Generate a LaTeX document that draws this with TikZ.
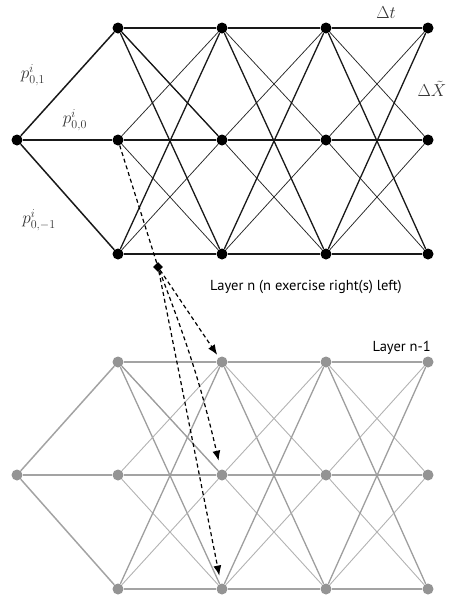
\documentclass[tikz,border=0pt]{standalone}
\usepackage{fontspec}
\setsansfont{PT Sans}
\usetikzlibrary{shapes.geometric,arrows.meta}
\begin{document}
\begin{tikzpicture}[x=1pt,y=-1pt,
  tn/.style={circle,fill=black,inner sep=0pt,minimum size=11pt},
  bn/.style={circle,fill=black!42,inner sep=0pt,minimum size=11pt},
  te0/.style={draw=black!90,line width=1.5pt},
  te1/.style={draw=black!85,line width=0.75pt},
  te2/.style={draw=black!90,line width=1.3pt},
  be0/.style={draw=black!36,line width=1.5pt},
  be1/.style={draw=black!30,line width=0.9pt},
  be2/.style={draw=black!38,line width=1.3pt},
  dsh/.style={draw=black,line width=1.2pt,dash pattern=on 4pt off 3pt},
  arr/.style={dsh,-{Latex[length=10pt,width=8pt]}},
  lab/.style={font=\fontsize{18}{20}\selectfont,inner sep=0pt,text=black!80},
  txt/.style={font=\sffamily\fontsize{14.5}{17}\selectfont,inner sep=0pt}]
\useasboundingbox (0,0) rectangle (449,598);
% top layer nodes
\node[tn] (t02) at (17,140) {};
\foreach \c/\x in {1/118,2/222,3/326,4/428}{
  \node[tn] (t\c1) at (\x,28) {};
  \node[tn] (t\c2) at (\x,140) {};
  \node[tn] (t\c3) at (\x,254) {};
}
% bottom layer nodes
\node[bn] (b02) at (17,475) {};
\foreach \c/\x in {1/118,2/222,3/326,4/428}{
  \node[bn] (b\c1) at (\x,362) {};
  \node[bn] (b\c2) at (\x,475) {};
  \node[bn] (b\c3) at (\x,589) {};
}
% edges from root
\foreach \s in {1,2,3}{
  \draw[te0] (t02) -- (t1\s);
  \draw[be0] (b02) -- (b1\s);
}
% full connections between columns
\foreach \c/\n in {1/2,2/3,3/4}{
  \foreach \r in {1,2,3}{
    \foreach \s in {1,2,3}{
      \pgfmathtruncatemacro{\d}{abs(\r-\s)}
      \draw[te\d] (t\c\r) -- (t\n\s);
      \draw[be\d] (b\c\r) -- (b\n\s);
    }
  }
}
\draw[te2] (t11) -- (t22);
\draw[be2] (b11) -- (b22);
% labels
\node[lab] (p1) at (33,75) {$p^{i}_{0,1}$};
\node[lab] (p0) at (75,120) {$p^{i}_{0,0}$};
\node[lab] (pm) at (39,220) {$p^{i}_{0,-1}$};
\node[lab] (dt) at (386,13) {$\Delta t$};
\node[lab] (dx) at (432,89) {$\Delta\tilde{X}$};
\node[txt,anchor=base west] (ln) at (210,290) {Layer n (n exercise right(s) left)};
\node[txt,anchor=base east] (ln1) at (431,351) {Layer n-1};
% dashed arrows
\node[diamond,fill=black,inner sep=0pt,minimum size=10pt] (dm) at (158,267) {};
\draw[dsh] (t12) -- (dm);
\draw[arr,shorten >=3pt] (dm) -- (b21);
\draw[arr,shorten >=9pt] (dm) to[bend left=4] (b22);
\draw[arr,shorten >=8pt] (dm) -- (b23);
\end{tikzpicture}
\end{document}
